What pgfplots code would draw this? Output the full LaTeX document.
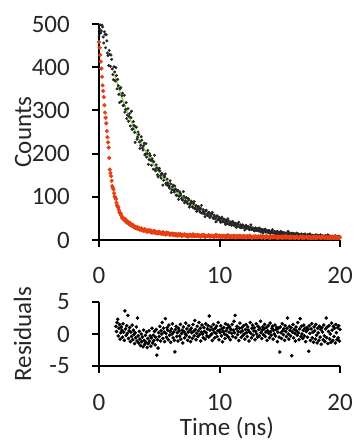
\documentclass[border=0pt]{standalone}
\usepackage{pgfplots}
\pgfplotsset{compat=1.18}
\usepackage{pgfplotstable}
\usepackage{fontspec}
\setmainfont{Carlito}
\definecolor{txt}{RGB}{38,38,38}
\definecolor{redd}{RGB}{232,62,18}
\definecolor{fitg}{RGB}{120,220,60}

\pgfplotstableread{
t c
0 472
0.05 488
0.1 498
0.15 479
0.2 484
0.25 497
0.3 493
0.35 470
0.4 456
0.45 482
0.5 476
0.55 445
0.6 475
0.65 461
0.7 433
0.75 427
0.8 404
0.85 439
0.9 430
0.95 402
1.0 428
1.05 418
1.1 396
1.15 383
1.2 371
1.25 401
1.3 389
1.35 368
1.4 399
1.45 381
1.5 350
1.55 372
1.6 357
1.65 337
1.7 318
1.75 350
1.8 353
1.85 321
1.9 334
1.95 340
2.0 311
2.05 312
2.1 335
2.15 296
2.2 302
2.25 318
2.3 281
2.35 289
2.4 304
2.45 275
2.5 286
2.55 293
2.6 264
2.65 283
2.7 298
2.75 256
2.8 257
2.85 274
2.9 265
2.95 249
3.0 226
3.05 262
3.1 261
3.15 233
3.2 238
3.25 250
3.3 244
3.35 227
3.4 212
3.45 219
3.5 239
3.55 231
3.6 213
3.65 208
3.7 218
3.75 224
3.8 197
3.85 199
3.9 223
3.95 192
4.0 200
4.05 207
4.1 175
4.15 186
4.2 200
4.25 195
4.3 184
4.35 173
4.4 188
4.45 184
4.5 164
4.55 181
4.6 196
4.65 163
4.7 160
4.75 174
4.8 167
4.85 151
4.9 146
4.95 162
5.0 166
5.05 160
5.1 149
5.15 143
5.2 154
5.25 153
5.3 127
5.35 138
5.4 149
5.45 146
5.5 153
5.55 131
5.6 128
5.65 141
5.7 132
5.75 126
5.8 124
5.85 120
5.9 137
5.95 130
6.0 110
6.05 116
6.1 123
6.15 127
6.2 115
6.25 111
6.3 125
6.35 118
6.4 104
6.45 103
6.5 114
6.55 115
6.6 94
6.65 101
6.7 111
6.75 108
6.8 104
6.85 96
6.9 95
6.95 92
7.0 112
7.05 101
7.1 86
7.15 90
7.2 97
7.25 98
7.3 89
7.35 84
7.4 96
7.45 93
7.5 76
7.55 81
7.6 85
7.65 90
7.7 88
7.75 77
7.8 75
7.85 84
7.9 89
7.95 72
8.0 74
8.05 80
8.1 66
8.15 70
8.2 77
8.25 78
8.3 73
8.35 67
8.4 64
8.45 73
8.5 80
8.55 62
8.6 64
8.65 70
8.7 65
8.75 60
8.8 54
8.85 67
8.9 69
8.95 58
9.0 60
9.05 56
9.1 64
9.15 63
9.2 52
9.25 55
9.3 59
9.35 60
9.4 64
9.45 51
9.5 50
9.55 58
9.6 54
9.65 49
9.7 42
9.75 55
9.8 56
9.85 46
9.9 48
9.95 53
10.0 51
10.05 45
10.1 41
10.15 50
10.2 53
10.25 42
10.3 43
10.35 48
10.4 48
10.45 40
10.5 36
10.55 46
10.6 43
10.65 38
10.7 49
10.75 44
10.8 36
10.85 37
10.9 39
10.95 42
11.0 34
11.05 35
11.1 43
11.15 40
11.2 36
11.25 33
11.3 39
11.35 38
11.4 29
11.45 32
11.5 36
11.55 37
11.6 41
11.65 30
11.7 31
11.75 35
11.8 28
11.85 29
11.9 35
11.95 34
12.0 31
12.05 28
12.1 23
12.15 32
12.2 34
12.25 27
12.3 28
12.35 31
12.4 30
12.45 25
12.5 24
12.55 30
12.6 35
12.65 24
12.7 25
12.75 28
12.8 27
12.85 23
12.9 21
12.95 27
13.0 28
13.05 22
13.1 22
13.15 26
13.2 24
13.25 21
13.3 28
13.35 25
13.4 19
13.45 20
13.5 24
13.55 24
13.6 16
13.65 19
13.7 24
13.75 23
13.8 25
13.85 18
13.9 20
13.95 22
14.0 18
14.05 18
14.1 22
14.15 21
14.2 15
14.25 17
14.3 20
14.35 20
14.4 24
14.45 16
14.5 17
14.55 20
14.6 19
14.65 15
14.7 13
14.75 19
14.8 20
14.85 15
14.9 17
14.95 18
15.0 14
15.05 14
15.1 20
15.15 18
15.2 15
15.25 14
15.3 17
15.35 17
15.4 11
15.45 13
15.5 16
15.55 16
15.6 13
15.65 12
15.7 20
15.75 16
15.8 11
15.85 12
15.9 14
15.95 15
16.0 16
16.05 12
16.1 10
16.15 15
16.2 14
16.25 11
16.3 12
16.35 14
16.4 16
16.45 10
16.5 11
16.55 14
16.6 13
16.65 10
16.7 8
16.75 13
16.8 14
16.85 10
16.9 11
16.95 13
17.0 10
17.05 9
17.1 14
17.15 12
17.2 8
17.25 9
17.3 12
17.35 12
17.4 10
17.45 9
17.5 14
17.55 12
17.6 8
17.65 8
17.7 11
17.75 11
17.8 7
17.85 8
17.9 10
17.95 11
18.0 12
18.05 8
18.1 8
18.15 11
18.2 10
18.25 7
18.3 6
18.35 10
18.4 12
18.45 7
18.5 8
18.55 10
18.6 9
18.65 7
18.7 6
18.75 10
18.8 10
18.85 6
18.9 7
18.95 9
19.0 12
19.05 7
19.1 8
19.15 9
19.2 9
19.25 6
19.3 5
19.35 9
19.4 9
19.45 6
19.5 4
19.55 8
19.6 10
19.65 6
19.7 7
19.75 8
19.8 6
19.85 6
19.9 9
19.95 8
20.0 6
}\blackdata

\pgfplotstableread{
t c
0 458
0.05 445
0.1 428
0.15 413
0.2 397
0.25 378
0.3 358
0.35 345
0.4 331
0.45 312
0.5 295
0.55 283
0.6 270
0.65 252
0.7 238
0.75 226
0.8 214
0.85 190
0.9 163
0.95 155
1.0 148
1.05 137
1.1 125
1.15 121
1.2 117
1.25 108
1.3 101
1.35 98
1.4 95
1.45 86
1.5 80
1.55 78
1.6 75
1.65 69
1.7 64
1.75 61
1.8 62
1.85 57
1.9 53
1.95 50
2.0 52
2.05 49
2.1 47
2.15 45
2.2 48
2.25 44
2.3 41
2.35 40
2.4 43
2.45 39
2.5 37
2.55 36
2.6 39
2.65 35
2.7 34
2.75 32
2.8 35
2.85 33
2.9 30
2.95 29
3.0 31
3.05 28
3.1 27
3.15 29
3.2 30
3.25 26
3.3 26
3.35 27
3.4 24
3.45 25
3.5 27
3.55 23
3.6 25
3.65 24
3.7 21
3.75 22
3.8 25
3.85 23
3.9 22
3.95 20
4.0 19
4.05 21
4.1 23
4.15 22
4.2 20
4.25 19
4.3 22
4.35 20
4.4 17
4.45 18
4.5 20
4.55 19
4.6 21
4.65 17
4.7 16
4.75 18
4.8 18
4.85 16
4.9 15
4.95 17
5.0 19
5.05 16
5.1 17
5.15 15
5.2 14
5.25 17
5.3 18
5.35 14
5.4 15
5.45 15
5.5 13
5.55 13
5.6 17
5.65 16
5.7 14
5.75 14
5.8 16
5.85 13
5.9 12
5.95 14
6.0 14
6.05 13
6.1 15
6.15 12
6.2 11
6.25 14
6.3 14
6.35 11
6.4 12
6.45 13
6.5 10
6.55 12
6.6 14
6.65 11
6.7 12
6.75 13
6.8 13
6.85 10
6.9 9
6.95 12
7.0 12
7.05 11
7.1 13
7.15 12
7.2 10
7.25 10
7.3 11
7.35 11
7.4 8
7.45 9
7.5 12
7.55 12
7.6 11
7.65 10
7.7 9
7.75 11
7.8 13
7.85 9
7.9 10
7.95 10
8.0 11
8.05 10
8.1 9
8.15 11
8.2 12
8.25 9
8.3 10
8.35 10
8.4 8
8.45 8
8.5 11
8.55 11
8.6 10
8.65 9
8.7 12
8.75 10
8.8 7
8.85 8
8.9 10
8.95 9
9.0 9
9.05 9
9.1 11
9.15 10
9.2 8
9.25 8
9.3 10
9.35 9
9.4 9
9.45 10
9.5 7
9.55 7
9.6 10
9.65 9
9.7 12
9.75 8
9.8 8
9.85 10
9.9 9
9.95 8
10.0 10
10.05 8
10.1 7
10.15 9
10.2 9
10.25 7
10.3 10
10.35 9
10.4 8
10.45 8
10.5 6
10.55 10
10.6 9
10.65 7
10.7 11
10.75 8
10.8 8
10.85 9
10.9 7
10.95 7
11.0 9
11.05 8
11.1 8
11.15 7
11.2 10
11.25 9
11.3 6
11.35 8
11.4 9
11.45 6
11.5 8
11.55 9
11.6 7
11.65 7
11.7 10
11.75 8
11.8 8
11.85 7
11.9 6
11.95 9
12.0 9
12.05 7
12.1 8
12.15 8
12.2 6
12.25 6
12.3 9
12.35 8
12.4 7
12.45 7
12.5 10
12.55 9
12.6 7
12.65 6
12.7 5
12.75 7
12.8 8
12.85 8
12.9 7
12.95 6
13.0 9
13.05 7
13.1 6
13.15 6
13.2 8
13.25 8
13.3 7
13.35 7
13.4 9
13.45 6
13.5 5
13.55 8
13.6 7
13.65 7
13.7 8
13.75 5
13.8 6
13.85 7
13.9 9
13.95 8
14.0 7
14.05 6
14.1 7
14.15 7
14.2 5
14.25 5
14.3 8
14.35 7
14.4 6
14.45 8
14.5 9
14.55 6
14.6 7
14.65 7
14.7 6
14.75 6
14.8 8
14.85 5
14.9 5
14.95 7
15.0 7
15.05 7
15.1 6
15.15 5
15.2 8
15.25 6
15.3 5
15.35 8
15.4 7
15.45 6
15.5 9
15.55 5
15.6 6
15.65 7
15.7 7
15.75 6
15.8 5
15.85 7
15.9 8
15.95 5
16.0 6
16.05 6
16.1 7
16.15 7
16.2 5
16.25 5
16.3 6
16.35 6
16.4 8
16.45 7
16.5 6
16.55 5
16.6 4
16.65 6
16.7 7
16.75 8
16.8 6
16.85 5
16.9 8
16.95 6
17.0 5
17.05 5
17.1 6
17.15 7
17.2 8
17.25 6
17.3 5
17.35 5
17.4 7
17.45 6
17.5 6
17.55 7
17.6 4
17.65 5
17.7 7
17.75 6
17.8 5
17.85 7
17.9 6
17.95 5
18.0 8
18.05 6
18.1 5
18.15 5
18.2 7
18.25 7
18.3 6
18.35 6
18.4 4
18.45 5
18.5 8
18.55 6
18.6 6
18.65 7
18.7 5
18.75 5
18.8 7
18.85 6
18.9 5
18.95 5
19.0 6
19.05 5
19.1 6
19.15 6
19.2 4
19.25 5
19.3 7
19.35 7
19.4 5
19.45 5
19.5 6
19.55 6
19.6 8
19.65 4
19.7 5
19.75 6
19.8 6
19.85 5
19.9 4
19.95 6
20.0 6
}\reddata

\pgfplotstableread{
t c
1.3 381.5
1.5 363.5
2 322
2.5 285.5
3 253
3.5 224
4 199
4.5 176
5 156.5
5.5 139
6 123
6.5 109
7 97
7.5 86
8 77
8.5 68
9 61
9.5 54
10 48.3
11 38.5
12 30.8
13 24.8
14 20.1
15 16.4
16 13.5
17 11.2
18 9.4
19 8
20 7
}\fitdata

\pgfplotstableread{
t r
1.40 1.2
1.45 0.4
1.50 1.8
1.55 2.3
1.60 -0.3
1.65 0.9
1.70 1.5
1.75 -0.8
1.80 0.2
1.85 1.1
1.90 0.6
1.95 -0.5
2.00 1.6
2.05 0.3
2.10 -1.0
2.15 3.6
2.20 0.8
2.25 -0.2
2.30 1.3
2.35 0.1
2.40 2.9
2.45 -0.7
2.50 0.5
2.55 1.0
2.60 -1.2
2.65 0.3
2.70 -0.4
2.75 1.4
2.80 -0.9
2.85 0.6
2.90 -0.1
2.95 -1.5
3.00 0.2
3.05 -0.6
3.10 1.1
3.15 -1.1
3.20 2.5
3.25 -0.3
3.30 -1.4
3.35 0.4
3.40 -0.8
3.45 -1.8
3.50 0.0
3.55 -1.2
3.60 -0.5
3.65 -2.0
3.70 0.6
3.75 -1.0
3.80 -1.6
3.85 -0.2
3.90 -1.3
3.95 0.3
4.00 -2.1
4.05 -0.7
4.10 -1.5
4.15 0.5
4.20 -1.1
4.25 -0.3
4.30 -1.9
4.35 -0.6
4.40 0.9
4.45 -1.4
4.50 -0.2
4.55 -1.0
4.60 0.4
4.65 -1.7
4.70 -0.5
4.75 0.7
4.80 -3.3
4.85 -0.9
4.90 -2.2
4.95 0.2
5.00 -0.4
5.05 1.2
5.10 -1.1
5.15 0.5
5.20 0.0
5.25 1.8
5.30 -0.7
5.35 0.9
5.40 0.3
5.45 -1.2
5.50 2.4
5.55 0.1
5.60 -0.5
5.65 1.0
5.70 0.6
5.75 -0.9
5.80 1.4
5.85 -0.2
5.90 0.4
5.95 -1.3
6.00 0.8
6.05 0.0
6.10 1.6
6.15 -0.6
6.20 0.3
6.25 -1.0
6.30 -2.8
6.35 0.7
6.40 1.2
6.45 -0.4
6.50 0.2
6.55 -1.1
6.60 0.9
6.65 0.5
6.70 -0.3
6.75 1.5
6.80 -0.8
6.85 0.1
6.90 0.6
6.95 -1.4
7.00 1.1
7.05 0.4
7.10 -0.6
7.15 0.0
7.20 1.7
7.25 -0.2
7.30 0.8
7.35 -1.0
7.40 0.3
7.45 1.3
7.50 -0.5
7.55 0.6
7.60 -1.2
7.65 0.9
7.70 0.2
7.75 -0.7
7.80 1.5
7.85 0.4
7.90 -0.3
7.95 2.1
8.00 0.7
8.05 -0.9
8.10 0.1
8.15 1.2
8.20 -0.4
8.25 0.5
8.30 1.8
8.35 -0.1
8.40 0.9
8.45 -1.1
8.50 0.3
8.55 1.4
8.60 0.0
8.65 -0.6
8.70 1.0
8.75 0.4
8.80 -0.8
8.85 1.6
8.90 0.2
8.95 -0.3
9.00 0.8
9.05 1.3
9.10 -0.5
9.15 2.8
9.20 0.6
9.25 -0.2
9.30 1.1
9.35 0.0
9.40 -1.0
9.45 0.7
9.50 1.5
9.55 0.3
9.60 -0.6
9.65 0.9
9.70 0.1
9.75 1.2
9.80 -0.4
9.85 0.5
9.90 1.8
9.95 -0.9
10.00 0.6
10.05 0.2
10.10 1.3
10.15 -0.3
10.20 0.8
10.25 -1.2
10.30 0.4
10.35 1.0
10.40 0.0
10.45 -0.7
10.50 1.6
10.55 0.5
10.60 -0.2
10.65 0.9
10.70 1.4
10.75 -0.5
10.80 0.3
10.85 1.1
10.90 -0.9
10.95 0.7
11.00 0.1
11.05 1.5
11.10 -0.4
11.15 0.6
11.20 2.0
11.25 0.2
11.30 2.9
11.35 -0.6
11.40 0.8
11.45 1.2
11.50 -0.1
11.55 0.4
11.60 -1.0
11.65 0.9
11.70 1.7
11.75 0.3
11.80 -0.5
11.85 1.0
11.90 0.5
11.95 -0.2
12.00 1.3
12.05 0.0
12.10 -0.8
12.15 0.7
12.20 1.5
12.25 0.2
12.30 -0.4
12.35 1.1
12.40 0.6
12.45 -1.1
12.50 0.3
12.55 1.8
12.60 0.1
12.65 -0.6
12.70 0.9
12.75 1.4
12.80 -0.2
12.85 0.5
12.90 1.0
12.95 -0.9
13.00 0.4
13.05 1.6
13.10 0.0
13.15 -0.5
13.20 1.2
13.25 0.7
13.30 -0.3
13.35 0.9
13.40 2.0
13.45 0.2
13.50 -0.7
13.55 0.6
13.60 1.1
13.65 -0.1
13.70 0.8
13.75 1.5
13.80 -0.4
13.85 0.3
13.90 1.0
13.95 -1.0
14.00 0.5
14.05 1.3
14.10 0.1
14.15 -0.6
14.20 1.7
14.25 0.4
14.30 -0.2
14.35 0.9
14.40 1.2
14.45 -0.8
14.50 0.6
14.55 0.0
14.60 1.4
14.65 -0.3
14.70 0.7
14.75 1.0
14.80 -1.2
14.85 0.3
14.90 0.9
14.95 -0.5
15.00 -2.8
15.05 1.1
15.10 0.2
15.15 -0.7
15.20 1.6
15.25 0.5
15.30 -0.1
15.35 0.8
15.40 -1.0
15.45 1.3
15.50 0.4
15.55 -0.4
15.60 0.9
15.65 2.5
15.70 0.0
15.75 -0.8
15.80 1.2
15.85 0.6
15.90 -0.3
15.95 1.0
16.00 -3.4
16.05 0.3
16.10 1.5
16.15 -0.6
16.20 0.7
16.25 0.1
16.30 -1.1
16.35 1.1
16.40 0.5
16.45 -0.2
16.50 1.8
16.55 0.2
16.60 -0.9
16.65 0.8
16.70 2.4
16.75 -0.4
16.80 1.2
16.85 0.0
16.90 -0.7
16.95 0.6
17.00 1.4
17.05 -0.3
17.10 0.9
17.15 -1.2
17.20 0.4
17.25 1.0
17.30 -0.5
17.35 0.7
17.40 -2.7
17.45 1.3
17.50 0.1
17.55 -1.0
17.60 0.8
17.65 1.6
17.70 -0.6
17.75 0.3
17.80 -1.3
17.85 1.1
17.90 0.5
17.95 -0.8
18.00 1.5
18.05 -0.2
18.10 -1.4
18.15 0.9
18.20 0.2
18.25 -1.0
18.30 1.2
18.35 -0.5
18.40 0.7
18.45 -1.6
18.50 1.0
18.55 0.3
18.60 -0.9
18.65 1.4
18.70 -0.3
18.75 -1.2
18.80 0.8
18.85 2.5
18.90 -0.6
18.95 1.1
19.00 -1.5
19.05 0.4
19.10 1.3
19.15 -0.8
19.20 0.0
19.25 -1.3
19.30 1.7
19.35 0.6
19.40 -1.0
19.45 1.2
19.50 -0.4
19.55 0.9
19.60 -1.4
19.65 1.5
19.70 0.2
19.75 -0.9
19.80 1.0
19.85 -0.6
19.90 1.3
19.95 -1.1
20.00 0.7
}\resdata

\pgfplotsset{
  myaxis/.style={
    scale only axis,
    width=241pt,
    axis x line*=bottom, axis y line*=left,
    axis line style={line width=2.2pt, black, -},
    every tick/.style={line width=2pt, black},
    tick align=outside, major tick length=7pt,
    xmin=0, xmax=20, xtick={0,10,20},
    /pgf/number format/assume math mode=true,
    ticklabel style={font=\fontsize{25}{30}\selectfont, text=txt, inner sep=0pt},
    xticklabel style={anchor=base, yshift=-37pt},
    yticklabel style={anchor=east, xshift=-22pt},
    clip=false,
  }
}

\begin{document}
\begin{tikzpicture}
\path[use as bounding box] (0pt,0pt) rectangle (357pt,442pt);
\begin{axis}[myaxis, at={(99pt,202pt)}, anchor=south west,
  height=216pt, ymin=0, ymax=500, ytick={0,100,200,300,400,500}]
  \addplot[only marks, mark=*, mark size=1.3pt, mark options={draw=black!85, fill=black!85}] table[x=t,y=c] {\blackdata};
  \addplot[fitg, line width=1.3pt, smooth] table[x=t,y=c] {\fitdata};
  \addplot[only marks, mark=*, mark size=1.9pt, mark options={draw=redd, fill=redd}] table[x=t,y=c] {\reddata};
\end{axis}
\begin{axis}[myaxis, at={(99pt,76pt)}, anchor=south west,
  height=64pt, ymin=-5, ymax=5, ytick={-5,0,5}]
  \addplot[only marks, mark=*, mark size=1.6pt, mark options={draw=black, fill=black}] table[x=t,y=r] {\resdata};
\end{axis}
\node[rotate=90, anchor=base, font=\fontsize{25}{30}\selectfont, text=txt] at (31pt,310pt) {Counts};
\node[rotate=90, anchor=base, font=\fontsize{25}{30}\selectfont, text=txt] at (31pt,108pt) {Residuals};
\node[anchor=base, font=\fontsize{25}{30}\selectfont, text=txt] at (227pt,6pt) {Time (ns)};
\end{tikzpicture}
\end{document}
